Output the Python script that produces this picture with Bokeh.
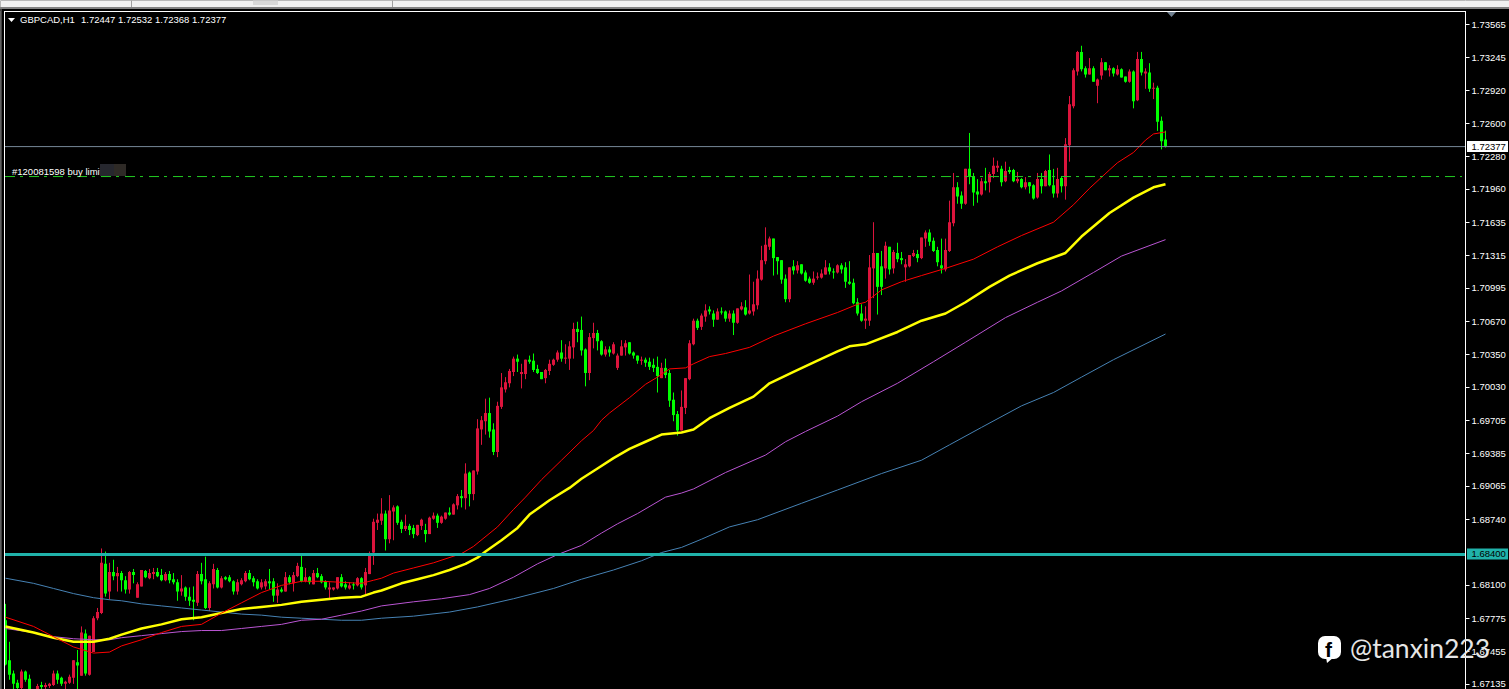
from bokeh.plotting import figure
from bokeh.models import Range1d, ColumnDataSource, Label, BoxAnnotation, PolyAnnotation, FixedTicker, NumeralTickFormatter
from bokeh.embed import file_html
from bokeh.resources import INLINE

tick_labels = [1.73565, 1.73245, 1.72920, 1.72600, 1.72280, 1.71960, 1.71635, 1.71315, 1.70995, 1.70670, 1.70350,
               1.70030, 1.69705, 1.69385, 1.69065, 1.68740, 1.68100, 1.67775, 1.67455, 1.67135]
last_close = 1.72377
level_price = 1.68400
order_price = 1.72085

high = [
1.6792,1.6755,1.6727,1.6718,1.6728,1.6727,1.6723,1.6704,1.6714,1.6716,
1.6715,1.6715,1.6727,1.6727,1.6721,1.6717,1.6723,1.6737,1.6747,1.6770,
1.6767,1.6761,1.6780,1.6788,1.6846,1.6843,1.6832,1.6835,1.6828,1.6824,
1.6819,1.6824,1.6826,1.6813,1.6825,1.6825,1.6826,1.6827,1.6827,1.6826,
1.6823,1.6824,1.6822,1.6816,1.6820,1.6809,1.6808,1.6809,1.6824,1.6832,
1.6838,1.6814,1.6831,1.6827,1.6819,1.6819,1.6820,1.6815,1.6816,1.6817,
1.6824,1.6825,1.6819,1.6816,1.6816,1.6816,1.6826,1.6817,1.6812,1.6808,
1.6823,1.6820,1.6823,1.6832,1.6839,1.6827,1.6819,1.6825,1.6827,1.6821,
1.6815,1.6813,1.6808,1.6818,1.6821,1.6814,1.6813,1.6813,1.6818,1.6818,
1.6827,1.6843,1.6875,1.6880,1.6895,1.6883,1.6898,1.6888,1.6888,1.6874,
1.6879,1.6870,1.6869,1.6869,1.6875,1.6870,1.6877,1.6881,1.6880,1.6878,
1.6881,1.6886,1.6890,1.6899,1.6903,1.6929,1.6921,1.6922,1.6972,1.6975,
1.6992,1.6993,1.6968,1.6989,1.7017,1.7013,1.7021,1.7033,1.7035,1.7026,
1.7030,1.7034,1.7036,1.7025,1.7018,1.7021,1.7030,1.7031,1.7039,1.7049,
1.7045,1.7048,1.7066,1.7067,1.7072,1.7041,1.7056,1.7066,1.7059,1.7049,
1.7043,1.7043,1.7047,1.7036,1.7049,1.7049,1.7047,1.7038,1.7034,1.7033,
1.7032,1.7032,1.7031,1.7033,1.7027,1.7031,1.7020,1.6998,1.6980,1.7000,
1.7012,1.7049,1.7070,1.7070,1.7075,1.7084,1.7082,1.7078,1.7080,1.7081,
1.7078,1.7078,1.7078,1.7080,1.7086,1.7088,1.7113,1.7106,1.7117,1.7141,
1.7159,1.7150,1.7148,1.7130,1.7127,1.7113,1.7120,1.7127,1.7126,1.7123,
1.7117,1.7111,1.7116,1.7115,1.7118,1.7127,1.7124,1.7119,1.7123,1.7124,
1.7125,1.7126,1.7109,1.7090,1.7084,1.7082,1.7132,1.7164,1.7134,1.7136,
1.7145,1.7140,1.7137,1.7144,1.7135,1.7128,1.7132,1.7137,1.7137,1.7149,
1.7156,1.7157,1.7149,1.7140,1.7148,1.7148,1.7185,1.7212,1.7203,1.7194,
1.7216,1.7251,1.7212,1.7206,1.7207,1.7217,1.7213,1.7227,1.7224,1.7219,
1.7223,1.7218,1.7216,1.7213,1.7207,1.7208,1.7203,1.7201,1.7212,1.7212,
1.7215,1.7230,1.7216,1.7217,1.7209,1.7246,1.7287,1.7314,1.7331,1.7336,
1.7316,1.7324,1.7316,1.7304,1.7324,1.7320,1.7317,1.7315,1.7317,1.7314,
1.7306,1.7313,1.7312,1.7330,1.7330,1.7314,1.7319,1.7300,1.7297,1.7267,
1.72532]

low = [
1.6732,1.6718,1.6709,1.6708,1.6708,1.6716,1.6705,1.6698,1.6705,1.6707,
1.6707,1.6710,1.6712,1.6714,1.6712,1.6709,1.6714,1.6714,1.6707,1.6722,
1.6722,1.6722,1.6745,1.6776,1.6782,1.6799,1.6796,1.6815,1.6804,1.6804,
1.6802,1.6802,1.6812,1.6798,1.6809,1.6817,1.6816,1.6816,1.6818,1.6814,
1.6814,1.6812,1.6811,1.6795,1.6800,1.6795,1.6790,1.6776,1.6790,1.6811,
1.6787,1.6785,1.6807,1.6807,1.6807,1.6815,1.6813,1.6801,1.6801,1.6810,
1.6813,1.6815,1.6809,1.6806,1.6806,1.6806,1.6806,1.6794,1.6793,1.6803,
1.6804,1.6811,1.6804,1.6818,1.6813,1.6813,1.6811,1.6811,1.6817,1.6812,
1.6806,1.6796,1.6805,1.6806,1.6808,1.6806,1.6806,1.6806,1.6809,1.6806,
1.6801,1.6821,1.6830,1.6864,1.6869,1.6844,1.6851,1.6854,1.6869,1.6861,
1.6863,1.6859,1.6856,1.6858,1.6864,1.6852,1.6860,1.6874,1.6866,1.6870,
1.6874,1.6878,1.6879,1.6884,1.6886,1.6884,1.6887,1.6893,1.6918,1.6947,
1.6957,1.6954,1.6937,1.6935,1.6982,1.6998,1.7003,1.7014,1.7018,1.7002,
1.7011,1.7026,1.7018,1.7016,1.7011,1.7007,1.7015,1.7024,1.7028,1.7028,
1.7026,1.7020,1.7031,1.7047,1.7034,1.7004,1.7010,1.7041,1.7039,1.7034,
1.7033,1.7033,1.7035,1.7020,1.7034,1.7034,1.7035,1.7031,1.7026,1.7025,
1.7023,1.7020,1.7018,1.6998,1.7012,1.7012,1.6984,1.6970,1.6956,1.6961,
1.6977,1.7010,1.7044,1.7059,1.7059,1.7067,1.7074,1.7062,1.7069,1.7074,
1.7067,1.7067,1.7054,1.7065,1.7078,1.7073,1.7074,1.7073,1.7079,1.7107,
1.7123,1.7137,1.7112,1.7113,1.7104,1.7086,1.7086,1.7113,1.7114,1.7113,
1.7106,1.7104,1.7103,1.7108,1.7109,1.7113,1.7113,1.7109,1.7114,1.7114,
1.7100,1.7103,1.7084,1.7073,1.7067,1.7060,1.7063,1.7090,1.7074,1.7093,
1.7109,1.7113,1.7114,1.7125,1.7123,1.7106,1.7120,1.7130,1.7125,1.7128,
1.7140,1.7141,1.7135,1.7121,1.7114,1.7116,1.7135,1.7160,1.7182,1.7177,
1.7181,1.7201,1.7180,1.7183,1.7190,1.7195,1.7193,1.7207,1.7213,1.7199,
1.7203,1.7211,1.7203,1.7202,1.7197,1.7196,1.7192,1.7186,1.7187,1.7192,
1.7199,1.7199,1.7188,1.7188,1.7193,1.7186,1.7223,1.7275,1.7307,1.7311,
1.7305,1.7308,1.7301,1.7280,1.7303,1.7312,1.7306,1.7306,1.7307,1.7305,
1.7300,1.7300,1.7275,1.7282,1.7307,1.7294,1.7291,1.7284,1.7253,1.7235,
1.72368]

open_ = [
1.6776,1.6737,1.6724,1.6715,1.6710,1.6726,1.6719,1.6703,1.6707,1.6713,
1.6711,1.6712,1.6713,1.6724,1.6720,1.6714,1.6715,1.6720,1.6735,1.6722,
1.6763,1.6723,1.6745,1.6778,1.6783,1.6831,1.6804,1.6823,1.6819,1.6822,
1.6815,1.6806,1.6823,1.6798,1.6809,1.6824,1.6817,1.6821,1.6823,1.6820,
1.6815,1.6821,1.6816,1.6813,1.6804,1.6808,1.6799,1.6796,1.6793,1.6821,
1.6816,1.6788,1.6811,1.6825,1.6808,1.6818,1.6818,1.6814,1.6804,1.6811,
1.6814,1.6822,1.6817,1.6814,1.6808,1.6809,1.6814,1.6814,1.6800,1.6806,
1.6804,1.6818,1.6812,1.6819,1.6828,1.6814,1.6818,1.6811,1.6822,1.6819,
1.6814,1.6806,1.6806,1.6807,1.6818,1.6811,1.6807,1.6811,1.6810,1.6817,
1.6810,1.6821,1.6842,1.6871,1.6873,1.6880,1.6855,1.6882,1.6887,1.6872,
1.6865,1.6868,1.6866,1.6859,1.6868,1.6864,1.6860,1.6875,1.6878,1.6871,
1.6875,1.6881,1.6879,1.6888,1.6897,1.6895,1.6920,1.6899,1.6921,1.6962,
1.6970,1.6978,1.6962,1.6940,1.6984,1.7001,1.7007,1.7018,1.7031,1.7016,
1.7016,1.7030,1.7029,1.7021,1.7018,1.7012,1.7019,1.7025,1.7030,1.7037,
1.7031,1.7031,1.7042,1.7060,1.7059,1.7040,1.7017,1.7051,1.7056,1.7048,
1.7035,1.7040,1.7036,1.7022,1.7034,1.7042,1.7047,1.7037,1.7034,1.7029,
1.7030,1.7028,1.7025,1.7023,1.7012,1.7022,1.7017,1.6991,1.6977,1.6961,
1.6983,1.7011,1.7045,1.7068,1.7062,1.7072,1.7079,1.7075,1.7069,1.7077,
1.7077,1.7070,1.7075,1.7066,1.7079,1.7081,1.7075,1.7077,1.7083,1.7108,
1.7126,1.7140,1.7148,1.7130,1.7127,1.7109,1.7089,1.7121,1.7117,1.7123,
1.7115,1.7109,1.7105,1.7110,1.7110,1.7113,1.7120,1.7116,1.7115,1.7122,
1.7120,1.7106,1.7105,1.7086,1.7075,1.7068,1.7068,1.7119,1.7134,1.7121,
1.7119,1.7140,1.7119,1.7134,1.7129,1.7120,1.7121,1.7131,1.7133,1.7129,
1.7148,1.7154,1.7146,1.7137,1.7122,1.7118,1.7136,1.7163,1.7198,1.7190,
1.7182,1.7216,1.7209,1.7194,1.7191,1.7204,1.7203,1.7211,1.7217,1.7216,
1.7204,1.7215,1.7215,1.7204,1.7206,1.7198,1.7203,1.7200,1.7188,1.7206,
1.7199,1.7215,1.7200,1.7192,1.7207,1.7199,1.7239,1.7277,1.7311,1.7330,
1.7314,1.7308,1.7314,1.7297,1.7307,1.7320,1.7312,1.7314,1.7308,1.7313,
1.7306,1.7301,1.7311,1.7283,1.7323,1.7309,1.7310,1.7294,1.7295,1.7263,
1.72447]

close = [
1.6733,1.6723,1.6714,1.6710,1.6726,1.6718,1.6707,1.6700,1.6712,1.6711,
1.6713,1.6714,1.6724,1.6718,1.6714,1.6716,1.6721,1.6737,1.6732,1.6764,
1.6724,1.6761,1.6778,1.6784,1.6832,1.6802,1.6823,1.6819,1.6822,1.6815,
1.6806,1.6823,1.6820,1.6811,1.6825,1.6818,1.6822,1.6823,1.6819,1.6815,
1.6821,1.6815,1.6813,1.6804,1.6807,1.6799,1.6795,1.6794,1.6821,1.6814,
1.6788,1.6812,1.6826,1.6808,1.6817,1.6816,1.6814,1.6804,1.6813,1.6815,
1.6822,1.6816,1.6813,1.6807,1.6813,1.6814,1.6812,1.6800,1.6806,1.6804,
1.6818,1.6813,1.6820,1.6829,1.6814,1.6818,1.6813,1.6822,1.6818,1.6813,
1.6808,1.6808,1.6808,1.6818,1.6809,1.6808,1.6810,1.6810,1.6817,1.6808,
1.6823,1.6840,1.6872,1.6874,1.6880,1.6855,1.6883,1.6886,1.6871,1.6865,
1.6868,1.6864,1.6860,1.6869,1.6874,1.6860,1.6876,1.6878,1.6871,1.6877,
1.6881,1.6879,1.6889,1.6897,1.6895,1.6919,1.6899,1.6922,1.6963,1.6971,
1.6978,1.6960,1.6940,1.6985,1.7003,1.7008,1.7019,1.7031,1.7028,1.7018,
1.7030,1.7028,1.7020,1.7017,1.7011,1.7020,1.7026,1.7030,1.7037,1.7031,
1.7032,1.7043,1.7060,1.7057,1.7039,1.7017,1.7052,1.7056,1.7048,1.7035,
1.7040,1.7037,1.7045,1.7034,1.7043,1.7046,1.7036,1.7034,1.7029,1.7030,
1.7027,1.7023,1.7022,1.7014,1.7022,1.7015,1.6990,1.6976,1.6961,1.6984,
1.7012,1.7046,1.7068,1.7061,1.7073,1.7078,1.7077,1.7069,1.7077,1.7076,
1.7070,1.7075,1.7066,1.7080,1.7082,1.7074,1.7078,1.7084,1.7109,1.7127,
1.7142,1.7148,1.7129,1.7126,1.7108,1.7089,1.7120,1.7117,1.7122,1.7114,
1.7107,1.7105,1.7109,1.7111,1.7114,1.7120,1.7116,1.7115,1.7122,1.7118,
1.7106,1.7104,1.7085,1.7075,1.7068,1.7070,1.7120,1.7134,1.7101,1.7101,
1.7141,1.7118,1.7135,1.7128,1.7127,1.7123,1.7132,1.7134,1.7129,1.7149,
1.7154,1.7145,1.7136,1.7125,1.7119,1.7137,1.7164,1.7198,1.7189,1.7182,
1.7216,1.7209,1.7193,1.7191,1.7204,1.7202,1.7211,1.7219,1.7219,1.7203,
1.7214,1.7213,1.7204,1.7206,1.7198,1.7203,1.7199,1.7187,1.7206,1.7199,
1.7214,1.7200,1.7192,1.7206,1.7199,1.7240,1.7279,1.7312,1.7330,1.7313,
1.7308,1.7314,1.7301,1.7303,1.7320,1.7312,1.7314,1.7309,1.7313,1.7305,
1.7301,1.7311,1.7282,1.7323,1.7310,1.7311,1.7294,1.7295,1.7262,1.7243,
1.72377]

red_x = [0,7,12,17,22,26,29,34,39,44,49,54,59,64,69,74,79,84,89,92,94,97,102,107,114,117,123,127,130,134,139,144,147,149,151,156,160,163,166,170,172,176,180,186,192,200,208,213,215,219,224,229,235,242,248,254,262,267,271,276,278,282,285,287,290]
red_ma = [1.6779,1.6770,1.6760,1.6750,1.6744,1.6745,1.6751,1.6757,1.6764,1.6770,1.6772,1.6783,1.6793,1.6803,1.6810,1.6814,1.6814,1.6813,1.6812,1.6815,1.6817,1.6822,1.6827,1.6832,1.6841,1.6848,1.6867,1.6884,1.6896,1.6913,1.6932,1.6951,1.6961,1.6971,1.6978,1.6993,1.7006,1.7013,1.7021,1.7022,1.7026,1.7033,1.7036,1.7042,1.7053,1.7065,1.7076,1.7084,1.7086,1.7098,1.7106,1.7112,1.7119,1.7128,1.7140,1.7151,1.7164,1.7181,1.7197,1.7215,1.7222,1.7232,1.7244,1.7250,1.7252]

yellow_x = [0,7,12,17,22,26,29,34,39,44,49,54,59,64,69,74,79,84,89,92,94,99,103,107,111,115,118,120,124,128,131,136,141,144,148,152,156,160,164,169,172,176,181,187,191,197,203,208,211,215,223,229,235,240,246,251,258,265,269,276,282,287,290]
yellow_ma = [1.6770,1.6764,1.6759,1.6755,1.6755,1.6758,1.6762,1.6768,1.6772,1.6777,1.6779,1.6783,1.6787,1.6789,1.6791,1.6794,1.6796,1.6798,1.6799,1.6803,1.6805,1.6812,1.6816,1.6820,1.6825,1.6831,1.6837,1.6843,1.6854,1.6866,1.6879,1.6893,1.6905,1.6914,1.6924,1.6934,1.6943,1.6950,1.6957,1.6959,1.6962,1.6973,1.6983,1.6994,1.7007,1.7018,1.7029,1.7038,1.7043,1.7045,1.7057,1.7068,1.7075,1.7086,1.7101,1.7112,1.7124,1.7134,1.7150,1.7173,1.7188,1.7198,1.7201]

violet_x = [0,7,12,17,22,26,29,34,39,44,49,54,59,64,69,74,79,84,89,94,102,109,116,121,127,133,138,144,149,153,158,165,169,172,180,190,195,200,208,214,223,232,240,250,258,264,272,279,290]
violet_ma = [1.6768,1.6764,1.6760,1.6758,1.6757,1.6757,1.6759,1.6761,1.6763,1.6765,1.6766,1.6766,1.6768,1.6770,1.6772,1.6776,1.6777,1.6781,1.6785,1.6790,1.6794,1.6797,1.6801,1.6807,1.6818,1.6831,1.6840,1.6849,1.6861,1.6870,1.6880,1.6896,1.6900,1.6904,1.6920,1.6937,1.6950,1.6960,1.6975,1.6989,1.7007,1.7028,1.7047,1.7071,1.7086,1.7097,1.7115,1.7131,1.7147]

blue_x = [0,7,12,17,22,26,29,34,39,44,49,54,59,64,69,74,79,84,89,94,102,111,118,127,137,144,152,159,164,169,174,181,188,199,208,219,229,236,244,254,262,269,277,290]
blue_ma = [1.6817,1.6812,1.6807,1.6802,1.6798,1.6796,1.6795,1.6792,1.6790,1.6788,1.6786,1.6784,1.6782,1.6781,1.6779,1.6778,1.6777,1.6776,1.6776,1.6778,1.6780,1.6784,1.6789,1.6797,1.6807,1.6816,1.6825,1.6834,1.6842,1.6847,1.6855,1.6867,1.6874,1.6890,1.6903,1.6919,1.6932,1.6947,1.6964,1.6985,1.6998,1.7013,1.7030,1.7055]

BULL = "#dc143c"
BEAR = "#00ff00"
FONT = "Liberation Sans"
FS = "9.5px"

# pixel position -> axis position, for the decorations that sit outside the data
PRICE_AT_12, PRICE_AT_689 = 1.73689, 1.67090
def X(px):
    return (px - 5.5) / 4
def Y(py):
    return PRICE_AT_12 - (py - 12) * (PRICE_AT_12 - PRICE_AT_689) / 677

# half-pixel shift of the ranges keeps one-pixel wicks and lines on whole pixels
p = figure(width=1509, height=689, output_backend="svg", toolbar_location=None,
           x_range=Range1d(X(0.5), X(1509.5)), y_range=Range1d(Y(689.5), Y(0.5)),
           x_axis_location=None, y_axis_location="right",
           background_fill_color="black", border_fill_color="black",
           min_border_left=0, min_border_right=0, min_border_top=0, min_border_bottom=0)
p.grid.visible = False
p.outline_line_color = None

ax = p.yaxis[0]
ax.fixed_location = X(1465.5)
ax.ticker = FixedTicker(ticks=tick_labels)
ax.formatter = NumeralTickFormatter(format="0.00000")
ax.axis_line_color = "white"
ax.major_tick_line_color = "white"
ax.major_tick_in = 0
ax.major_tick_out = 4
ax.minor_tick_line_color = None
ax.major_label_text_color = "white"
ax.major_label_text_font = FONT
ax.major_label_text_font_size = FS
ax.major_label_standoff = 2

idx = list(range(len(close)))
colors = [BULL if c > o else BEAR for o, c in zip(open_, close)]
src = ColumnDataSource(dict(x=idx, open=open_, high=high, low=low, close=close,
                            top=[max(o, c) for o, c in zip(open_, close)],
                            bottom=[min(o, c) for o, c in zip(open_, close)], color=colors))
p.segment("x", "high", "x", "low", source=src, line_color="color", line_width=1)
p.vbar(x="x", width=0.75, top="top", bottom="bottom", source=src, fill_color="color", line_color=None)

p.line(blue_x, blue_ma, line_color="#4682b4", line_width=1)
p.line(violet_x, violet_ma, line_color="#ba55d3", line_width=1)
p.line(yellow_x, yellow_ma, line_color="#ffff00", line_width=2.5)
p.line(red_x, red_ma, line_color="#ff0000", line_width=1)

p.segment([X(5)], [last_close], [X(1465)], [last_close], line_color="#778899", line_width=1)
p.segment([X(5)], [order_price], [X(1462)], [order_price], line_color="#22cc22", line_width=1, line_dash="10 5 3 6")
p.segment([X(5)], [level_price], [X(1466)], [level_price], line_color="#20b2aa", line_width=3)

def box(l, r, t, b, color):
    p.add_layout(BoxAnnotation(left=X(l), right=X(r), top=Y(t), bottom=Y(b), fill_color=color, fill_alpha=1,
                               line_color=None, level="overlay"))
def text(px, py, s, color="white", size=FS, font=FONT, style="normal"):
    p.add_layout(Label(x=X(px), y=Y(py), text=s, text_color=color, text_font=font, text_font_size=size,
                       text_font_style=style, text_baseline="middle", text_align="left", level="overlay"))
def poly(pts, color):
    p.add_layout(PolyAnnotation(xs=[X(a) for a, b in pts], ys=[Y(b) for a, b in pts], fill_color=color,
                                fill_alpha=1, line_color=None, level="overlay"))

# chart frame
box(0, 1509, 9, 11, "black")
box(4, 1466, 11, 12, "white")
box(4, 5, 11, 689, "white")
box(0, 2, 9, 689, "#404040")

# window strip above the chart
box(0, 1509, 0, 7, "#f0f0f0")
box(0, 1509, 7, 9, "#808080")
box(253, 278, 0, 5, "#d8d8d8")
box(131, 132, 0, 7, "#a0a0a0")
box(392, 393, 0, 7, "#a0a0a0")

text(20, 19.5, "GBPCAD,H1")
text(81, 19.5, "1.72447 1.72532 1.72368 1.72377")
poly([(8, 18), (15, 18), (11.5, 22)], "white")
poly([(1167, 12), (1176, 12), (1171.5, 17)], "#708090")

text(12, 171, "#120081598 buy limit")
box(100, 114, 164, 176, "#26272e")
box(114, 126, 164, 176, "#2e2a26")

box(1467, 1508, 141, 152, "white")
text(1471.5, 146.5, "1.72377", color="black")
box(1467, 1508, 548.5, 559.5, "#20b2aa")
text(1471.5, 554, "1.68400", color="black")

# watermark
p.add_layout(BoxAnnotation(left=X(1318), right=X(1341), top=Y(636), bottom=Y(659), fill_color="white", fill_alpha=1,
                           line_color=None, border_radius=7, level="overlay"))
poly([(1326, 657), (1334, 657), (1327, 663)], "white")
text(1325, 649, "f", color="black", size="21px", font="Liberation Sans", style="bold")
text(1350, 648, "@tanxin223", color="#e6e6e6", size="26.5px", font="Lato")

open("out.html", "w").write(file_html(p, INLINE))
